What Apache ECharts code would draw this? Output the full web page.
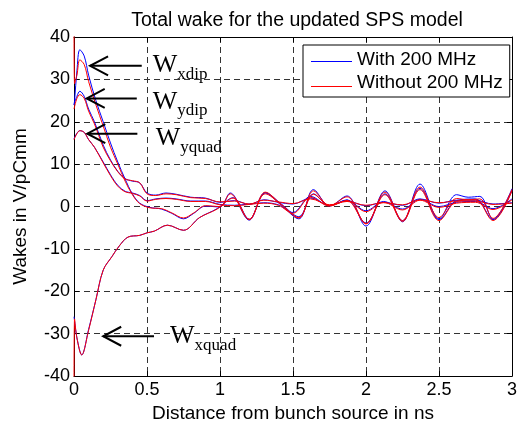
<!DOCTYPE html>
<html><head><meta charset="utf-8">
<script src="https://cdn.jsdelivr.net/npm/echarts@6/dist/echarts.min.js"></script>
<style>html,body{margin:0;padding:0;background:#fff}#c{width:520px;height:428px}</style>
</head><body><div id="c"></div>
<script>
// ---- data (x in ns, wakes in V/pC/mm) ----
const xdipX = [0, 0.004, 0.02, 0.04, 0.07, 0.1, 0.15, 0.2, 0.25, 0.3, 0.35, 0.4, 0.45, 0.52, 0.6, 0.67, 0.75, 0.82, 0.9, 1.0, 1.07, 1.2, 1.31, 1.42, 1.54, 1.64, 1.75, 1.87, 2.0, 2.13, 2.25, 2.37, 2.5, 2.62, 2.7, 2.78, 2.87, 3.0];
const xdipBlue = [24, 25, 32, 37, 35.5, 31, 25, 20, 15, 10.5, 6.5, 3, 0.8, -0.2, -0.6, -1.6, -2.9, -1.6, 0.1, -0.1, 3.2, -3.2, 3.2, 0.3, -2.9, 4.0, 0.1, 2.5, -4.6, 3.7, -3.6, 5.3, -2.9, 2.8, 2.2, 2.4, -3.0, 4.2];
const xdipRed = [45, 29, 31, 34.6, 33.5, 29.5, 24, 19, 14, 10, 6, 2.8, 0.7, -0.3, -0.5, -1.5, -2.7, -1.5, 0.2, 0, 3.0, -3.0, 3.0, 0.4, -2.7, 3.7, 0.2, 2.3, -4.1, 3.4, -3.3, 4.6, -2.6, 1.9, 1.6, 1.8, -2.8, 4.0];

const xquadX = [0, 0.004, 0.02, 0.053, 0.1, 0.15, 0.2, 0.26, 0.31, 0.37, 0.45, 0.5, 0.55, 0.64, 0.75, 0.86, 0.98, 1.09, 1.2, 1.31, 1.42, 1.54, 1.64, 1.75, 1.87, 2.0, 2.13, 2.25, 2.37, 2.5, 2.62, 2.75, 2.87, 3.0];
const xquadBlue = [-26, -27, -31, -35, -29, -22, -15, -11.8, -9.3, -7.2, -6.8, -6.2, -5.8, -4.4, -5.6, -2.6, -0.5, 2.1, -3.0, 3.3, 0.6, -2.4, 3.0, 0.2, 1.6, -3.9, 3.0, -3.3, 4.3, -3.1, 1.4, 1.8, -3.1, 3.8];
const xquadRed = [-45, -26.5, -31, -35, -29.2, -22, -15, -11.8, -9.3, -7.2, -6.8, -6.2, -5.8, -4.4, -5.6, -2.6, -0.6, 2.0, -3.1, 3.4, 0.5, -2.6, 2.9, 0.3, 1.4, -4.0, 2.8, -3.5, 4.0, -3.3, 1.2, 1.6, -3.3, 3.7];

const yX = [0, 0.02, 0.04, 0.07, 0.1, 0.14, 0.2, 0.25, 0.3, 0.35, 0.4, 0.45, 0.5, 0.56, 0.63, 0.7, 0.8, 0.9, 1.0, 1.1, 1.2, 1.3, 1.4, 1.5, 1.62, 1.75, 1.87, 2.0, 2.12, 2.25, 2.37, 2.5, 2.62, 2.75, 2.87, 3.0];
const ydipBlue = [24, 26, 27.2, 26, 23, 20, 14.5, 11, 8.3, 6.6, 6.0, 5.6, 3.2, 2.7, 3.2, 2.9, 2.2, 2.0, 1.0, 1.4, 0.5, 1.6, 1.0, 0.6, 2.0, 0.3, 1.3, 0.2, 1.0, 0.3, 1.8, 0.8, 1.5, 1.5, 0.6, 0.9];
const ydipRed = [23, 25.5, 26.4, 25.5, 22.5, 19.5, 14, 10.8, 8.2, 6.5, 6.1, 5.6, 3.0, 2.6, 3.0, 2.8, 2.1, 1.9, 1.1, 1.3, 0.6, 1.5, 1.1, 0.7, 1.8, 0.4, 1.2, 0.3, 0.9, 0.4, 1.6, 0.9, 1.3, 1.3, 0.5, 0.8];
const yquadBlue = [16, 17.3, 17.9, 17.5, 15.8, 14, 10.5, 7.5, 5, 3.6, 3.2, 2.6, 1.4, 1.8, 2.0, 1.8, 1.3, 1.3, 0.5, 0.3, 0.6, 0.9, 0.4, -1.4, 2.4, 0.2, 1.5, -1.0, 1.2, -0.6, 1.7, 0.0, 1.0, 1.2, -0.5, 1.8];
const yquadRed = [15.8, 17.2, 17.9, 17.5, 15.8, 14, 10.3, 7.3, 4.8, 3.5, 3.1, 2.5, 1.3, 1.7, 1.9, 1.7, 1.2, 1.2, 0.4, 0.2, 0.5, 0.8, 0.3, -1.6, 2.2, 0.1, 1.4, -1.2, 1.0, -0.8, 1.5, -0.2, 0.8, 1.0, -0.7, 1.6];

const legendNames = ['With 200 MHz', 'Without 200 MHz'];
const titleText = 'Total wake for the updated SPS model';
const xName = 'Distance from bunch source in ns';
const yName = 'Wakes in V/pCmm';

// annotation anchors in data coordinates
const annSubs = ['xdip', 'ydip', 'yquad', 'xquad'];
const annTip = [[0.11, 33.2], [0.087, 25.5], [0.091, 17.2], [0.2, -30.6]];
const annTail = [[0.464, 33.2], [0.43, 25.5], [0.434, 17.2], [0.548, -30.6]];
const annText = [[0.539, 31.3], [0.539, 22.6], [0.56, 14.1], [0.658, -32.7]];

// ---- chart ----
const BLUE = '#0000ff', RED = '#ff0000';
const SANS = '"Liberation Sans", Arial, sans-serif';
const SERIF = '"Liberation Serif", "Times New Roman", serif';
const pairs = (xs, ys) => xs.map((x, i) => [x, ys[i]]);

function mk(name, color, xs, ys) {
  return {
    name, type: 'line', data: pairs(xs, ys), smooth: 0.35, color,
    showSymbol: false, symbol: 'none', clip: true,
    itemStyle: { color, borderColor: color }, lineStyle: { color, width: 1 },
    emphasis: { disabled: true }
  };
}

const chart = echarts.init(document.getElementById('c'), null, { renderer: 'canvas', width: 520, height: 428 });

const axisCommon = {
  type: 'value',
  axisLine: { show: true, onZero: false, lineStyle: { color: '#000', width: 1 } },
  axisTick: { show: true, inside: true, length: 5, lineStyle: { color: '#000' } },
};

const LEG = { left: 303, top: 45, padTop: 5, padLeft: 8, rowH: 21, gap: 4, iconW: 41 };
const legendColors = [BLUE, RED];
chart.setOption({
  animation: false,
  backgroundColor: '#fff',
  title: {
    text: titleText, left: 292, top: 6, textAlign: 'center',
    textStyle: { fontFamily: SANS, fontSize: 19.5, fontWeight: 'normal', color: '#000' }
  },
  grid: { left: 74, right: 8, top: 37, bottom: 46, containLabel: false },
  legend: {
    data: legendNames, icon: 'none',
    orient: 'vertical', left: LEG.left, top: LEG.top,
    padding: [LEG.padTop, 7, LEG.padTop, LEG.padLeft], itemGap: LEG.gap, itemWidth: LEG.iconW, itemHeight: 14,
    backgroundColor: '#fff', borderColor: '#000', borderWidth: 1, borderRadius: 0,
    textStyle: { fontFamily: SANS, fontSize: 19, color: '#000' }
  },
  xAxis: [
    Object.assign({}, axisCommon, {
      position: 'bottom', min: 0, max: 3, interval: 0.5,
      name: xName, nameLocation: 'middle', nameGap: 26,
      nameTextStyle: { fontFamily: SANS, fontSize: 19, color: '#000' },
      axisLabel: { fontFamily: SANS, fontSize: 18, color: '#000', margin: 5 },
      splitLine: { show: true, lineStyle: { color: '#333', width: 1, type: [6, 4] } }
    }),
    Object.assign({}, axisCommon, {
      position: 'top', min: 0, max: 3, interval: 0.5,
      axisLabel: { show: false }, splitLine: { show: false }
    })
  ],
  yAxis: [
    Object.assign({}, axisCommon, {
      position: 'left', min: -40, max: 40, interval: 10,
      name: yName, nameLocation: 'middle', nameGap: 44, nameRotate: 90,
      nameTextStyle: { fontFamily: SANS, fontSize: 19, color: '#000' },
      axisLabel: { fontFamily: SANS, fontSize: 18, color: '#000', margin: 4 },
      splitLine: { show: true, lineStyle: { color: '#333', width: 1, type: [6, 4] } }
    }),
    Object.assign({}, axisCommon, {
      position: 'right', min: -40, max: 40, interval: 10,
      axisLabel: { show: false }, splitLine: { show: false }
    })
  ],
  series: [
    mk(legendNames[0], BLUE, xdipX, xdipBlue),
    mk(legendNames[0], BLUE, yX, ydipBlue),
    mk(legendNames[0], BLUE, yX, yquadBlue),
    mk(legendNames[0], BLUE, xquadX, xquadBlue),
    mk(legendNames[1], RED, xdipX, xdipRed),
    mk(legendNames[1], RED, yX, ydipRed),
    mk(legendNames[1], RED, yX, yquadRed),
    mk(legendNames[1], RED, xquadX, xquadRed)
  ]
});

// ---- annotations: arrows and W labels, positioned through the axes ----
const toPx = p => chart.convertToPixel({ xAxisIndex: 0, yAxisIndex: 0 }, p);
const graphics = [];
const WSIZE = 26, SSIZE = 17;
annSubs.forEach((sub, i) => {
  const tip = toPx(annTip[i]), tail = toPx(annTail[i]), t = toPx(annText[i]);
  graphics.push({ type: 'line', shape: { x1: tail[0], y1: tail[1], x2: tip[0], y2: tip[1] },
    style: { stroke: '#000', lineWidth: 2 }, z: 100 });
  graphics.push({ type: 'polyline', shape: { points: [[tip[0] + 18, tip[1] - 9.5], [tip[0], tip[1]], [tip[0] + 18, tip[1] + 9.5]] },
    style: { stroke: '#000', lineWidth: 2, fill: null }, z: 100 });
  graphics.push({ type: 'text', x: t[0], y: t[1] - 0.3375 * WSIZE, z: 100,
    style: { text: 'W', font: WSIZE + 'px ' + SERIF, fill: '#000', textAlign: 'left', textVerticalAlign: 'middle', align: 'left', verticalAlign: 'middle' } });
  graphics.push({ type: 'text', x: t[0] + 0.944 * WSIZE, y: t[1] + 6 - 0.3375 * SSIZE, z: 100,
    style: { text: sub, font: SSIZE + 'px ' + SERIF, fill: '#000', textAlign: 'left', textVerticalAlign: 'middle', align: 'left', verticalAlign: 'middle' } });
});
// legend line samples (drawn in the icon slots the legend reserves)
legendColors.forEach((c, i) => {
  const y = Math.round(LEG.top + LEG.padTop + LEG.rowH / 2 + i * (LEG.rowH + LEG.gap)) + 0.5;
  const x0 = LEG.left + LEG.padLeft;
  graphics.push({ type: 'line', shape: { x1: x0, y1: y, x2: x0 + LEG.iconW, y2: y },
    style: { stroke: c, lineWidth: 1 }, z: 100 });
});
chart.setOption({ graphic: graphics });
</script>
</body></html>
